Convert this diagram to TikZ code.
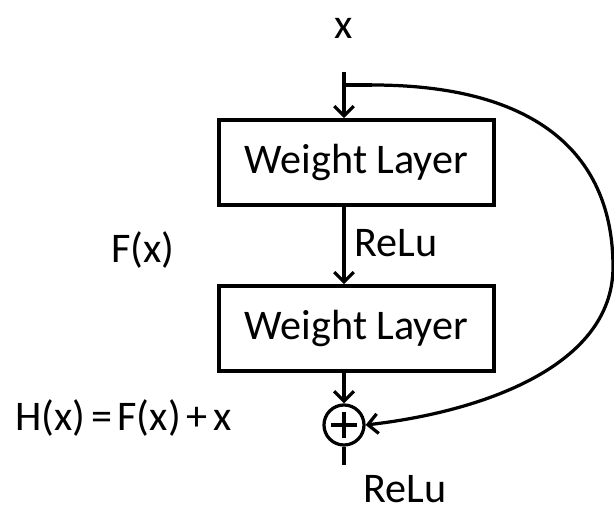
\documentclass[tikz,border=0pt]{standalone}
\usepackage{fontspec}
\setmainfont{Carlito}
\usetikzlibrary{arrows.meta, positioning}
\tikzstyle{layer} = [rectangle, minimum width=6.875cm, minimum height=2.125cm, text centered, draw=black, line width=2.5pt, font=\fontsize{30}{36}\selectfont]
\tikzstyle{sumnode} = [circle, draw=black, line width=2.3pt, minimum size=1cm, inner sep=0pt, path picture={\draw[line width=2.5pt] (path picture bounding box.center) ++(-13,0) -- ++(26,0) (path picture bounding box.center) ++(0,-13) -- ++(0,26);}]
\tikzstyle{lbl} = [font=\fontsize{30}{36}\selectfont, inner sep=0pt]
\tikzstyle{arrow} = [line width=2.3pt, -{Straight Barb[length=7pt,width=14pt,line width=2.3pt]}]

\begin{document}
\begin{tikzpicture}[x=0.025cm, y=0.025cm]
        \useasboundingbox (0,0) rectangle (614,507);
        \node (xin) [lbl] at (344,479) {x};
        \coordinate (top) at (344,435);
        \coordinate (split) at (344,422);
        \coordinate (bend) at (372,422);
        \node (w1) [layer] at (356.5,344.5) {Weight Layer};
        \node (w2) [layer] at (356.5,178.5) {Weight Layer};
        \node (sum) [sumnode] at (344,82) {};
        \coordinate (out) at (344,42);
        \node (relu1) [lbl, anchor=west] at (354,264) {ReLu};
        \node (relu2) [lbl] at (405,18) {ReLu};
        \node (fx) [lbl] at (143,257) {F(x)};
        \node (hx) [lbl, anchor=west] at (15,89) {H(x)\hspace{4pt}=\hspace{4pt}F(x)\hspace{4pt}+\hspace{4pt}x};

        \draw [arrow] (top) -- (top |- w1.north);
        \draw [arrow] (w1.south -| top) -- (top |- w2.north);
        \draw [arrow] (w2.south -| top) -- (sum);
        \draw [line width=2.3pt] (sum) -- (out);
        \draw [line width=2.3pt] (split) -- (bend);
        \draw [arrow] (bend) .. controls (540,422) and (613,350) .. (613,240)
                .. controls (613,140) and (480,95) .. (sum.east);
    \end{tikzpicture}
\end{document}
